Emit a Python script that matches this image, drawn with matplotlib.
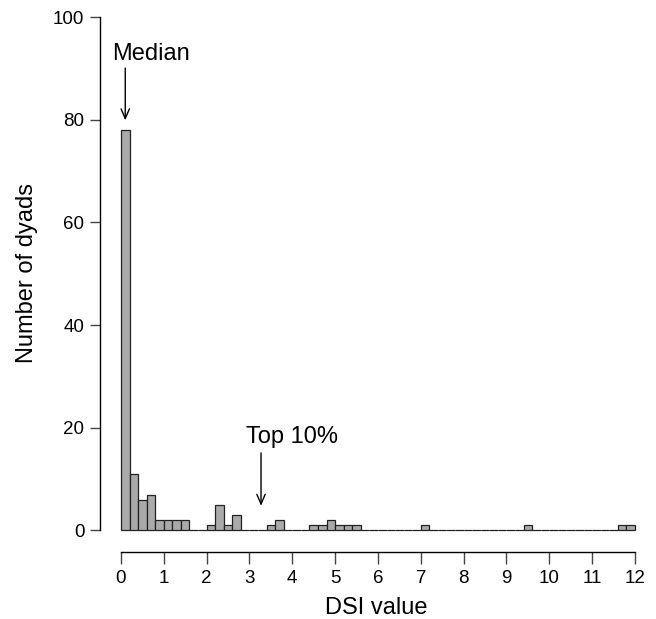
import numpy as np
import matplotlib
matplotlib.use("Agg")
import matplotlib.pyplot as plt

plt.rcParams['font.family'] = ['Liberation Sans', 'DejaVu Sans']

# histogram of DSI values, bins of width 0.2 from 0 to 12
bin_edges = np.linspace(0, 12, 61)
counts = [78, 11, 6, 7, 2, 2, 2, 2, 0, 0,
          1, 5, 1, 3, 0, 0, 0, 1, 2, 0,
          0, 0, 1, 1, 2, 1, 1, 1, 0, 0,
          0, 0, 0, 0, 0, 1, 0, 0, 0, 0,
          0, 0, 0, 0, 0, 0, 0, 1, 0, 0,
          0, 0, 0, 0, 0, 0, 0, 0, 1, 1]
x_ticks = list(range(0, 13))
y_ticks = [0, 20, 40, 60, 80, 100]

fig = plt.figure(figsize=(6.56, 6.19), dpi=100)
ax = fig.add_axes([100.4 / 656, 67 / 619, 551.7 / 656, 542 / 619])

ax.bar(bin_edges[:-1], counts, width=np.diff(bin_edges), align='edge',
       color='#aaaaaa', edgecolor='#222222', linewidth=0.9)

ax.set_xlim(-0.48, 12.4)
ax.set_ylim(-4.2, 101.4)

for s in ['top', 'right']:
    ax.spines[s].set_visible(False)
ax.spines['left'].set_bounds(0, 100)
ax.spines['bottom'].set_bounds(0, 12)
ax.spines['left'].set_linewidth(1)
ax.spines['bottom'].set_linewidth(1)

ax.set_xticks(x_ticks)
ax.set_yticks(y_ticks)
ax.tick_params(axis='y', length=7.2, width=1, pad=4.3, labelsize=13.5, color='#444444')
ax.tick_params(axis='x', length=8.3, width=1, pad=4.5, labelsize=13.5, color='#444444')

ax.set_xlabel("DSI value", fontsize=17, labelpad=7)
ax.set_ylabel("Number of dyads", fontsize=17)
ax.yaxis.set_label_coords(-0.113, 0.515)

arrow = dict(arrowstyle='->,head_length=0.7,head_width=0.3', color='black', lw=1,
             shrinkA=0, shrinkB=0)
ax.annotate('', xy=(0.1, 79.9), xytext=(0.1, 90.1), arrowprops=arrow)
ax.text(0.7, 91.6, "Median", ha='center', va='baseline', fontsize=17)
ax.annotate('', xy=(3.27, 4.8), xytext=(3.27, 15.1), arrowprops=arrow)
ax.text(3.99, 17.0, "Top 10%", ha='center', va='baseline', fontsize=17)

fig.savefig("out.png", dpi=100)
